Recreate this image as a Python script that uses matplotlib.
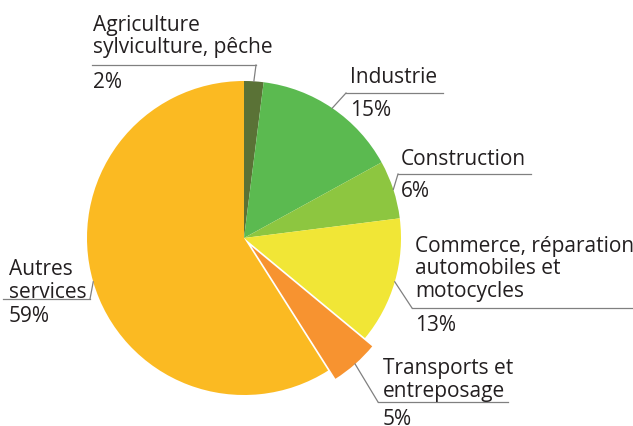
import matplotlib
matplotlib.use("Agg")
import matplotlib.pyplot as plt
import numpy as np

# shares of employment by sector (%)
sectors = ["Agriculture\nsylviculture, pêche", "Industrie", "Construction",
           "Commerce, réparation\nautomobiles et\nmotocycles",
           "Transports et\nentreposage", "Autres\nservices"]
shares = [2, 15, 6, 13, 5, 59]
pct_labels = ["2%", "15%", "6%", "13%", "5%", "59%"]
colors = ["#5a7236", "#5bba50", "#8dc640", "#f1e636", "#f79330", "#fbba22"]
explode = [0, 0, 0, 0, 0.07, 0]

# layout in pixels (from top-left), pie centre and radius
W, H = 633, 426
CX, CY, R = 244, 238, 157

def px(x, y):
    # pixel coords -> data coords (radius = 1)
    return (x - CX) / R, (CY - y) / R

# text left x, first baseline y, rule y, rule x0, rule x1, leader end side
label_pos = [
    (93, 31, 65, 92, 256, "right"),
    (350, 83, 93, 346, 443, "left"),
    (401, 165, 174, 398, 531, "left"),
    (415, 252, 308, 412, 633, "left"),
    (383, 374, 402, 378, 508, "left"),
    (9, 275, 299, 3, 90, "right"),
]
line_step = 22.5
pct_gap = 23
fsize = 15

fig = plt.figure(figsize=(W / 100, H / 100), dpi=100)
ax = fig.add_axes([0, 0, 1, 1])

wedges, _ = ax.pie(shares, colors=colors, startangle=90, counterclock=False,
                   explode=explode, radius=1,
                   wedgeprops=dict(linewidth=0))

ax.set_aspect("auto")
ax.set_xlim(px(0, 0)[0], px(W, 0)[0])
ax.set_ylim(px(0, H)[1], px(0, 0)[1])
ax.axis("off")

txt_color = "#231f20"
font = ["Open Sans", "DejaVu Sans"]
for i, w in enumerate(wedges):
    tx, ty, ry, rx0, rx1, side = label_pos[i]
    # name lines
    for k, line in enumerate(sectors[i].split("\n")):
        x, y = px(tx, ty + k * line_step)
        ax.text(x, y, line, ha="left", va="baseline", fontsize=fsize,
                color=txt_color, family=font)
    # percentage below the rule
    x, y = px(tx, ry + pct_gap)
    ax.text(x, y, pct_labels[i], ha="left", va="baseline", fontsize=fsize,
            color=txt_color, family=font)
    # rule
    a0, b0 = px(rx0, ry)
    a1, b1 = px(rx1, ry)
    ax.plot([a0, a1], [b0, b1], color="#808080", lw=0.9)
    # leader from wedge edge at mid angle
    ang = np.deg2rad((w.theta1 + w.theta2) / 2)
    cx, cy = w.center
    sx, sy = cx + w.r * np.cos(ang), cy + w.r * np.sin(ang)
    ex = a1 if side == "right" else a0
    ax.plot([sx, ex], [sy, b0], color="#808080", lw=0.9)

plt.savefig("out.png", dpi=100)
plt.close()
